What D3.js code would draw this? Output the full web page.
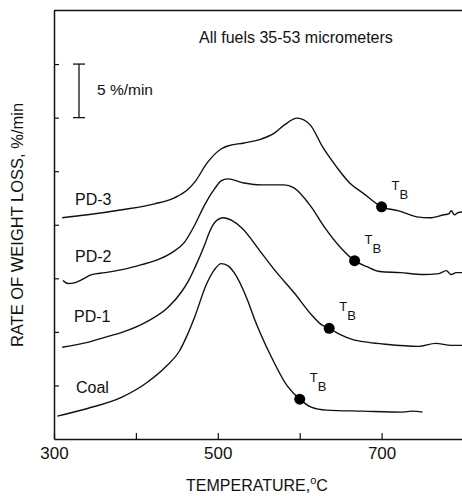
<!DOCTYPE html>
<html>
<head>
<meta charset="utf-8">
<script src="https://cdnjs.cloudflare.com/ajax/libs/d3/7.8.5/d3.min.js"></script>
<style>
  body { margin: 0; background: #fff; }
  text { font-family: "Liberation Sans", Arial, sans-serif; fill: #111; }
</style>
</head>
<body>
<svg id="chart" width="462" height="496"></svg>
<script>
// tick values
const xTicks = [300, 400, 500, 600, 700];
const xTickLabels = [300, 500, 700];
const yTicks = [5, 10, 15, 20, 25, 30, 35];

const seriesNames = ['Coal', 'PD-1', 'PD-2', 'PD-3'];

// [temperature °C, rate (offset), %/min]
const coal = [[304,2.14],[341,2.85],[383,3.91],[414,5.3],[437,6.79],[453,8.19],[462,9.58],
  [472,11.44],[486,14.42],[496,15.81],[504,16.37],[512,16.19],[520,15.53],[536,13.02],[545,11.16],
  [565,7.72],[585,4.93],[600,3.72],[614,2.98],[633,2.7],[677,2.6],[726,2.51],[737,2.6],[750,2.51]];

const pd1 = [[310,8.56],[341,9.02],[362,9.49],[383,9.95],[414,10.98],[439,12.28],[456,13.77],[465,14.88],
  [472,16.0],[484,18.14],[490,19.35],[497,20.28],[507,20.65],[517,20.4],[529,19.72],[553,17.4],
  [572,15.53],[593,13.67],[614,11.63],[626,10.7],[636,10.33],[649,9.77],[664,9.3],[684,9.02],
  [705,8.84],[745,8.65],[766,8.93],[785,8.74],[800,8.74]];

const pd2 = [[311,14.79],[317,14.51],[326,14.6],[334,14.88],[346,15.35],[362,15.53],[383,15.81],
  [407,16.28],[427,16.74],[444,17.4],[459,18.33],[472,20.0],[484,21.86],[496,23.35],[504,24.09],
  [512,24.28],[532,23.9],[553,23.72],[581,23.72],[593,23.44],[614,21.67],[630,19.81],[649,17.95],
  [667,16.65],[682,16.09],[698,15.63],[723,15.53],[751,15.35],[770,15.44],[779,15.72],[785,15.35],
  [791,15.53],[800,15.53]];

const pd3 = [[310,20.65],[341,20.93],[383,21.4],[423,21.95],[447,22.51],[463,23.26],[472,24.0],
  [487,25.77],[504,27.07],[512,27.35],[532,27.63],[553,28.0],[569,28.56],[581,29.3],[597,29.95],
  [613,29.3],[628,27.26],[645,25.4],[661,23.9],[677,22.98],[700,21.67],[721,21.3],[743,20.74],
  [759,20.65],[776,20.93],[782,21.02],[785,21.3],[789,20.93],[793,21.12],[800,21.2]];

// burnout temperatures T_B and the rate at that point
const tbTemps = [600, 636, 667, 700];
const tbValues = [3.72, 10.33, 16.65, 21.67];

const series = [coal, pd1, pd2, pd3];

const svg = d3.select('#chart');

const x = d3.scaleLinear().domain([300, 800]).range([54, 463.5]);
const y = d3.scaleLinear().domain([0, 40]).range([439, 10.5]);

// top frame line
svg.append('line')
  .attr('x1', x(300)).attr('x2', x(800))
  .attr('y1', y(40)).attr('y2', y(40))
  .attr('stroke', '#111').attr('stroke-width', 1.5);

const xAxis = svg.append('g')
  .attr('transform', `translate(0, ${y(0)})`)
  .call(d3.axisBottom(x)
    .tickValues(xTicks)
    .tickSize(-6)
    .tickSizeOuter(0)
    .tickPadding(8)
    .tickFormat(d => xTickLabels.includes(d) ? d : ''));

const yAxis = svg.append('g')
  .attr('transform', `translate(${x(300)}, 0)`)
  .call(d3.axisLeft(y)
    .tickValues(yTicks)
    .tickSize(-5)
    .tickSizeOuter(0)
    .tickFormat(''));

[xAxis, yAxis].forEach(g => {
  g.attr('font-family', null).attr('font-size', null);
  g.select('.domain').attr('stroke', '#111').attr('stroke-width', 1.5);
  g.selectAll('.tick line').attr('stroke', '#111').attr('stroke-width', 1.2);
});
xAxis.selectAll('.tick text').style('font-size', '17px').attr('fill', '#111');

// curves
const line = d3.line()
  .x(d => x(d[0]))
  .y(d => y(d[1]))
  .curve(d3.curveMonotoneX);

svg.selectAll('.curve')
  .data(series)
  .enter()
  .append('path')
  .attr('class', 'curve')
  .attr('d', line)
  .attr('fill', 'none')
  .attr('stroke', '#111')
  .attr('stroke-width', 1.4);

// T_B markers
svg.selectAll('.tb')
  .data(tbTemps)
  .enter()
  .append('circle')
  .attr('class', 'tb')
  .attr('cx', d => x(d))
  .attr('cy', (d, i) => y(tbValues[i]))
  .attr('r', 5.5)
  .attr('fill', '#000');

const tbLabels = svg.selectAll('.tblabel')
  .data(tbTemps)
  .enter()
  .append('text')
  .attr('class', 'tblabel')
  .attr('x', d => x(d) + 10)
  .attr('y', (d, i) => y(tbValues[i]) - 17)
  .style('font-size', '13px');
tbLabels.append('tspan').text('T');
tbLabels.append('tspan').attr('dy', 9).text('B');

// series labels
const labelPos = [[76, 393], [74, 322], [75, 262], [75, 205]];
svg.selectAll('.slabel')
  .data(seriesNames)
  .enter()
  .append('text')
  .attr('class', 'slabel')
  .attr('x', (d, i) => labelPos[i][0])
  .attr('y', (d, i) => labelPos[i][1])
  .style('font-size', '16px')
  .text(d => d);

// 5 %/min scale bar
const barX = 79;
const sb = svg.append('g').attr('stroke', '#111').attr('stroke-width', 1.3);
sb.append('line').attr('x1', barX).attr('x2', barX).attr('y1', y(35)).attr('y2', y(30));
sb.append('line').attr('x1', barX - 6).attr('x2', barX + 6).attr('y1', y(35)).attr('y2', y(35));
sb.append('line').attr('x1', barX - 6).attr('x2', barX + 6).attr('y1', y(30)).attr('y2', y(30));
svg.append('text')
  .attr('x', 97).attr('y', 95)
  .style('font-size', '15.5px')
  .text('5 %/min');

svg.append('text')
  .attr('x', 199).attr('y', 43)
  .style('font-size', '16px')
  .text('All fuels 35-53 micrometers');

// axis titles
svg.append('text')
  .attr('transform', 'translate(23, 225) rotate(-90)')
  .attr('text-anchor', 'middle')
  .style('font-size', '16.5px')
  .text('RATE OF WEIGHT LOSS, %/min');

const xl = svg.append('text')
  .attr('x', 257).attr('y', 491)
  .attr('text-anchor', 'middle')
  .style('font-size', '16px');
xl.append('tspan').text('TEMPERATURE,');
xl.append('tspan').attr('dy', -7).style('font-size', '11px').text('o');
xl.append('tspan').attr('dy', 7).text('C');
</script>
</body>
</html>
